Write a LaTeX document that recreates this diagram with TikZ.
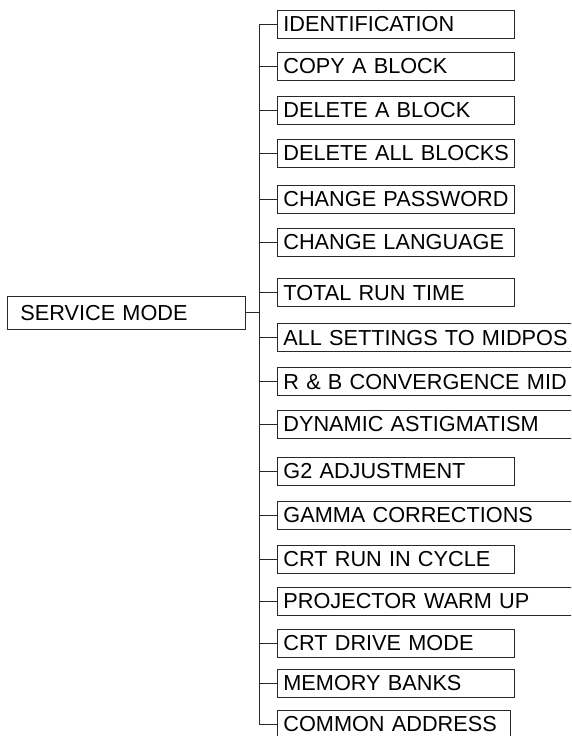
\documentclass[tikz,border=0pt]{standalone}
\usepackage{fontspec}
\setmainfont{Liberation Sans}
\usepackage{tikz}
\usetikzlibrary{positioning,calc}
\hyphenpenalty=10000
\uchyph=0
\definecolor{boxgray}{RGB}{40,40,40}
\tikzset{
	menubox/.style={
		draw=boxgray,
		line width=0.8pt,
		anchor=west,
		minimum height=28pt,
		inner xsep=6pt,
		inner ysep=1pt,
		text width=225pt,
		text height=15.4pt,
		text depth=0pt,
		align=left,
		font=\fontsize{21.7}{24}\selectfont
	},
	longbox/.style={
		menubox,
		text width=300pt
	},
	rootbox/.style={
		menubox,
		minimum height=33pt,
		inner xsep=13pt,
		text width=212pt
	},
	link/.style={
		draw=boxgray,
		line width=0.8pt
	}
}
\begin{document}
\begin{tikzpicture}[x=1pt,y=-1pt]
	\useasboundingbox (0,0) rectangle (571,736);
	\clip (0,0) rectangle (571,736);
	
	% Root
	\node[rootbox] (svcmode) at (7,312.5) {SERVICE~MODE};
	\coordinate (trunk) at (259,312.5);
	
	% Menu items
	\node[menubox] (ident) at (277,24) {IDENTIFICATION};
	\node[menubox] (copyblk) at (277,66) {COPY~A~BLOCK};
	\node[menubox] (delblk) at (277,110) {DELETE~A~BLOCK};
	\node[menubox] (delall) at (277,153) {DELETE~ALL~BLOCKS};
	\node[menubox] (chpass) at (277,199) {CHANGE~PASSWORD};
	\node[menubox] (chlang) at (277,242) {CHANGE~LANGUAGE};
	\node[menubox] (runtime) at (277,292.5) {TOTAL~RUN~TIME};
	\node[longbox] (midpos) at (277,337.5) {ALL~SETTINGS~TO~MIDPOS};
	\node[longbox] (rbconv) at (277,381.5) {R~\&~B~CONVERGENCE~MID};
	\node[longbox] (dynast) at (277,424) {DYNAMIC~ASTIGMATISM};
	\node[menubox] (gtwo) at (277,471) {G2~ADJUSTMENT};
	\node[longbox] (gamma) at (277,515) {GAMMA~CORRECTIONS};
	\node[menubox] (runcyc) at (277,559) {CRT~RUN~IN~CYCLE};
	\node[longbox] (warmup) at (277,601) {PROJECTOR~WARM~UP};
	\node[menubox] (drvmode) at (277,643) {CRT~DRIVE~MODE};
	\node[menubox] (membank) at (277,683) {MEMORY~BANKS};
	\node[menubox,text width=221pt] (comaddr) at (277,724) {COMMON~ADDRESS};
	
	% Connections
	\draw[link] (svcmode.east) -- (trunk);
	\draw[link] (ident.west) -- (ident.west -| trunk) -- (comaddr.west -| trunk) -- (comaddr.west);
	\draw[link] (copyblk.west) -- (copyblk.west -| trunk);
	\draw[link] (delblk.west) -- (delblk.west -| trunk);
	\draw[link] (delall.west) -- (delall.west -| trunk);
	\draw[link] (chpass.west) -- (chpass.west -| trunk);
	\draw[link] (chlang.west) -- (chlang.west -| trunk);
	\draw[link] (runtime.west) -- (runtime.west -| trunk);
	\draw[link] (midpos.west) -- (midpos.west -| trunk);
	\draw[link] (rbconv.west) -- (rbconv.west -| trunk);
	\draw[link] (dynast.west) -- (dynast.west -| trunk);
	\draw[link] (gtwo.west) -- (gtwo.west -| trunk);
	\draw[link] (gamma.west) -- (gamma.west -| trunk);
	\draw[link] (runcyc.west) -- (runcyc.west -| trunk);
	\draw[link] (warmup.west) -- (warmup.west -| trunk);
	\draw[link] (drvmode.west) -- (drvmode.west -| trunk);
	\draw[link] (membank.west) -- (membank.west -| trunk);
	
\end{tikzpicture}
\end{document}
